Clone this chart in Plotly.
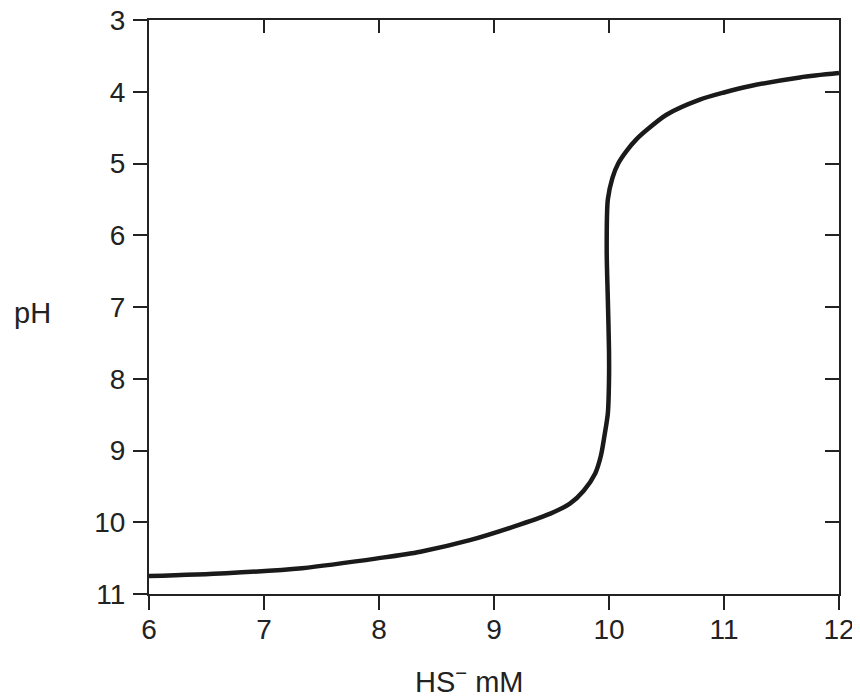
import plotly.graph_objects as go

# Data: HS- concentration (mM) vs pH
hs_mM = [6.00, 6.67, 7.33, 8.00, 8.36, 8.79, 9.23, 9.49, 9.66, 9.78, 9.88, 9.93,
         9.96, 9.99, 10.00, 10.00, 9.99, 9.98, 9.99, 10.03, 10.08, 10.16, 10.24,
         10.33, 10.50, 10.79, 11.00, 11.23, 11.66, 12.00]
ph = [10.75, 10.71, 10.64, 10.50, 10.41, 10.25, 10.03, 9.88, 9.74, 9.56, 9.32, 9.07,
      8.80, 8.48, 8.02, 7.60, 6.90, 6.20, 5.50, 5.20, 5.00, 4.81, 4.66,
      4.53, 4.32, 4.11, 4.01, 3.92, 3.80, 3.74]

x_ticks = [6, 7, 8, 9, 10, 11, 12]
y_ticks = [3, 4, 5, 6, 7, 8, 9, 10, 11]

INK = "#222222"
FONT = "Liberation Sans, Arial, sans-serif"

fig = go.Figure()
fig.add_trace(go.Scatter(
    x=hs_mM, y=ph, mode="lines",
    line=dict(color="#1a1a1a", width=4.5, shape="spline", smoothing=0.8),
    hoverinfo="skip", showlegend=False,
))
# empty trace to activate mirrored (top/right) axes with inward ticks
fig.add_trace(go.Scatter(x=[], y=[], xaxis="x2", yaxis="y2", showlegend=False,
                         hoverinfo="skip"))

axis_common = dict(showgrid=False, zeroline=False, showline=True, linewidth=2,
                   linecolor=INK, tickwidth=2, tickcolor=INK, automargin=False,
                   ticklabeloverflow="allow",
                   tickfont=dict(family=FONT, size=28, color=INK))

# page body has an 8px default margin, so the figure is offset by 8px
fig.update_layout(
    width=852, height=690,
    paper_bgcolor="white", plot_bgcolor="white",
    margin=dict(l=141, r=21, t=12, b=104),
    xaxis=dict(range=[6, 12], tickvals=x_ticks, ticktext=[str(v) for v in x_ticks],
               ticks="outside", ticklen=14, ticklabelstandoff=-5, **axis_common),
    yaxis=dict(range=[11, 3], tickvals=y_ticks, ticktext=[str(v) for v in y_ticks],
               ticks="outside", ticklen=14, ticklabelstandoff=2, **axis_common),
    xaxis2=dict(range=[6, 12], overlaying="x", side="top", tickvals=x_ticks,
                ticks="inside", ticklen=13, showticklabels=False, **axis_common),
    yaxis2=dict(range=[11, 3], overlaying="y", side="right", tickvals=y_ticks,
                ticks="inside", ticklen=14, showticklabels=False, **axis_common),
    annotations=[
        dict(text="pH", xref="paper", yref="paper", x=-0.169, y=0.49,
             xanchor="center", yanchor="middle", showarrow=False,
             font=dict(family=FONT, size=29, color=INK)),
        dict(text="HS<sup>−</sup> mM", xref="paper", yref="paper", x=0.464, y=-0.15,
             xanchor="center", yanchor="middle", showarrow=False,
             font=dict(family=FONT, size=29, color=INK)),
    ],
)

fig.write_html("out.html")
